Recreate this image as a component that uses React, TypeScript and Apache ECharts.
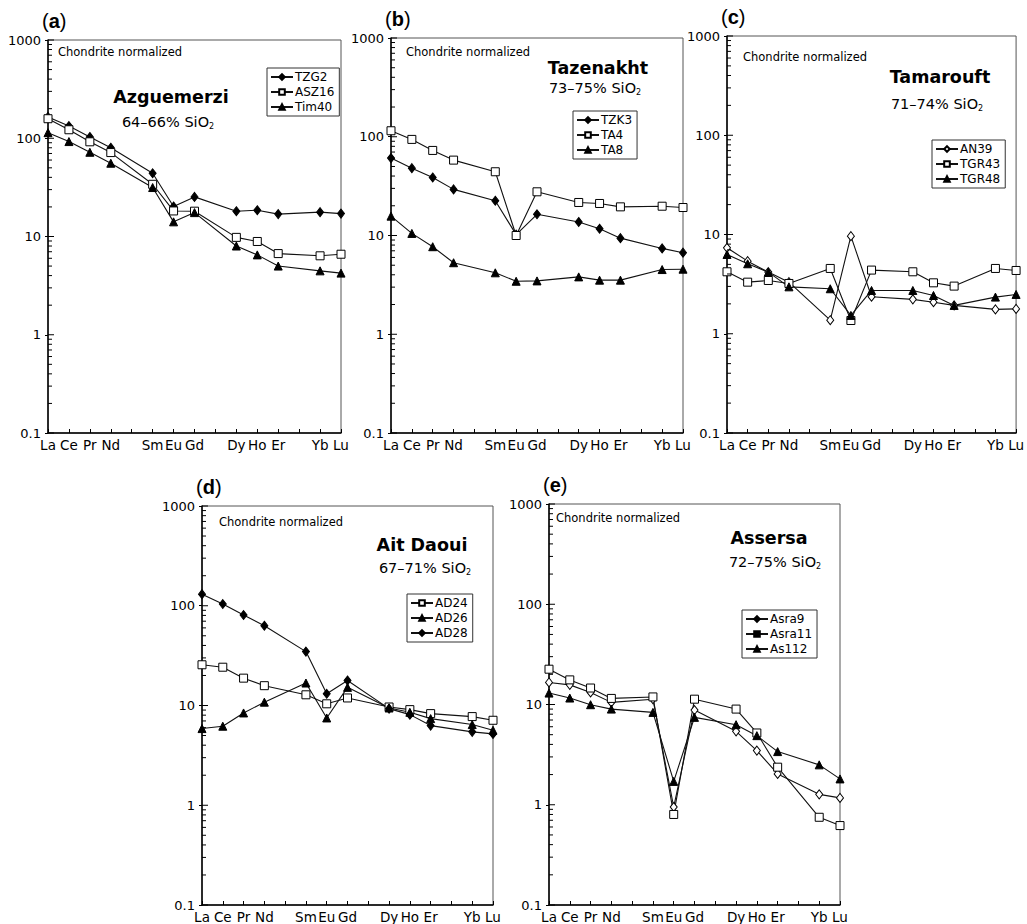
import React, { useEffect, useRef } from "react";
import * as echarts from "echarts";

// ---- axis definitions ----
const ELEMENTS = ["La", "Ce", "Pr", "Nd", "Sm", "Eu", "Gd", "Dy", "Ho", "Er", "Yb", "Lu"];
const TICK_LABELS = ["La", "Ce", "Pr", "Nd", "", "Sm", "Eu", "Gd", "", "Dy", "Ho", "Er", "", "Yb", "Lu"];
const Y_MAJOR = [0.1, 1, 10, 100, 1000];
const Y_MINOR_MANTISSA = [2, 3, 4, 5, 6, 7, 8, 9];
const Y_MINOR_DECADES = [0.1, 1, 10, 100];

// ---- panel (a) Azguemerzi ----
const TZG2 = [165, 133, 103, 80, 44, 20.2, 25.3, 18.1, 18.5, 16.9, 17.7, 17.1];
const ASZ16 = [158, 122, 92, 71.5, 34, 18.2, 18.1, 9.8, 8.9, 6.7, 6.36, 6.6];
const Tim40 = [114, 92.5, 72, 55.7, 31.5, 14.1, 17.5, 8.0, 6.5, 5.0, 4.47, 4.24];
// ---- panel (b) Tazenakht ----
const TZK3 = [60.8, 48.1, 38.7, 29.3, 22.5, 10.2, 16.4, 13.7, 11.7, 9.4, 7.4, 6.7];
const TA4 = [115, 94, 72.7, 58, 44.2, 10, 27.7, 21.6, 21.1, 19.5, 19.8, 19.2];
const TA8 = [15.7, 10.5, 7.7, 5.3, 4.19, 3.44, 3.47, 3.81, 3.53, 3.53, 4.52, 4.56];
// ---- panel (c) Tamarouft ----
const AN39 = [7.34, 5.39, 4.18, 3.31, 1.37, 9.62, 2.36, 2.22, 2.08, 1.93, 1.76, 1.78];
const TGR43 = [4.21, 3.31, 3.44, 3.21, 4.55, 1.36, 4.38, 4.21, 3.26, 3.02, 4.55, 4.34];
const TGR48 = [6.29, 5.07, 4.18, 2.97, 2.84, 1.53, 2.73, 2.73, 2.43, 1.93, 2.34, 2.49];
// ---- panel (d) Ait Daoui ----
const AD24 = [25.6, 24.2, 18.8, 15.8, 12.8, 10.4, 11.9, 9.66, 9.09, 8.29, 7.74, 7.11];
const AD26 = [5.87, 6.2, 8.42, 10.8, 16.8, 7.5, 15.2, 9.44, 8.55, 7.39, 6.44, 5.65];
const AD28 = [130.7, 104, 80.7, 63.1, 34.7, 13.1, 17.8, 9.3, 8.1, 6.29, 5.44, 5.19];
// ---- panel (e) Assersa ----
const Asra9 = [16.6, 15.7, 13.2, 10.5, 11.3, 0.95, 8.8, 5.4, 3.47, 2.03, 1.27, 1.17];
const Asra11 = [22.5, 17.6, 14.6, 11.5, 11.9, 0.8, 11.3, 9.0, 5.2, 2.37, 0.75, 0.62];
const As112 = [13.0, 11.6, 9.95, 9.0, 8.34, 1.71, 7.44, 6.29, 4.89, 3.39, 2.5, 1.81];

type Mk = "fd" | "os" | "ft" | "od";

const PANELS = [
  {
    letter: "a", name: "Azguemerzi", silica: "64–66% SiO",
    grid: { left: 48, top: 40, width: 293, height: 393 },
    chond: [58, 52], nameC: [171, 97], silC: [168, 122],
    legend: [267, 68],
    series: [
      { name: "TZG2", values: TZG2, mk: "fd" as Mk },
      { name: "ASZ16", values: ASZ16, mk: "os" as Mk },
      { name: "Tim40", values: Tim40, mk: "ft" as Mk },
    ],
  },
  {
    letter: "b", name: "Tazenakht", silica: "73–75% SiO",
    grid: { left: 391, top: 38, width: 292, height: 395 },
    chond: [406, 52], nameC: [598, 68], silC: [595, 88],
    legend: [573, 111],
    series: [
      { name: "TZK3", values: TZK3, mk: "fd" as Mk },
      { name: "TA4", values: TA4, mk: "os" as Mk },
      { name: "TA8", values: TA8, mk: "ft" as Mk },
    ],
  },
  {
    letter: "c", name: "Tamarouft", silica: "71–74% SiO",
    grid: { left: 727, top: 36, width: 291, height: 397 },
    chond: [743, 57], nameC: [940, 77], silC: [937, 104],
    legend: [932, 140],
    series: [
      { name: "AN39", values: AN39, mk: "od" as Mk },
      { name: "TGR43", values: TGR43, mk: "os" as Mk },
      { name: "TGR48", values: TGR48, mk: "ft" as Mk },
    ],
  },
  {
    letter: "d", name: "Ait Daoui", silica: "67–71% SiO",
    grid: { left: 202, top: 506, width: 291, height: 401 },
    chond: [219, 522], nameC: [422, 545], silC: [425, 568],
    legend: [407, 594],
    series: [
      { name: "AD24", values: AD24, mk: "os" as Mk },
      { name: "AD26", values: AD26, mk: "ft" as Mk },
      { name: "AD28", values: AD28, mk: "fd" as Mk },
    ],
  },
  {
    letter: "e", name: "Assersa", silica: "72–75% SiO",
    grid: { left: 549, top: 504, width: 291, height: 403 },
    chond: [556, 518], nameC: [769, 538], silC: [775, 562],
    legend: [742, 610],
    series: [
      { name: "Asra9", values: Asra9, mk: "od" as Mk, legendFill: true },
      { name: "Asra11", values: Asra11, mk: "os" as Mk, legendFill: true },
      { name: "As112", values: As112, mk: "ft" as Mk },
    ],
  },
];

function markerStyle(mk: Mk) {
  switch (mk) {
    case "fd":
      return { symbol: "diamond", symbolSize: [7, 9], itemStyle: { color: "#000", borderColor: "#000", borderWidth: 1 } };
    case "od":
      return { symbol: "diamond", symbolSize: [7, 9], itemStyle: { color: "#fff", borderColor: "#000", borderWidth: 1 } };
    case "os":
      return { symbol: "rect", symbolSize: 8, itemStyle: { color: "#fff", borderColor: "#000", borderWidth: 1 } };
    default:
      return { symbol: "triangle", symbolSize: 8, itemStyle: { color: "#000", borderColor: "#000", borderWidth: 1 } };
  }
}

const SANS = "DejaVu Sans";

export default function App() {
  const ref = useRef<HTMLDivElement>(null);
  useEffect(() => {
    if (!ref.current) return;
    const chart = echarts.init(ref.current, null, { renderer: "svg" });

    const minorVals: number[] = [];
    Y_MINOR_DECADES.forEach((d) => Y_MINOR_MANTISSA.forEach((m) => minorVals.push(+(m * d).toPrecision(3))));

    const grids: any[] = [];
    const xAxes: any[] = [];
    const yAxes: any[] = [];
    const series: any[] = [];
    const legends: any[] = [];
    const graphics: any[] = [];

    PANELS.forEach((p, i) => {
      grids.push({ ...p.grid, show: true, borderColor: "#555", borderWidth: 1, backgroundColor: "transparent" });
      xAxes.push({
        type: "value", gridIndex: i, min: 0, max: TICK_LABELS.length - 1, interval: 1,
        axisLine: { show: true, onZero: false, lineStyle: { color: "#000", width: 1.5 } },
        axisTick: { show: true, inside: true, length: 4, lineStyle: { color: "#000" } },
        axisLabel: {
          margin: 5, color: "#000", fontFamily: SANS, fontSize: 13.5,
          formatter: (v: number) => TICK_LABELS[Math.round(v)] || "",
        },
        splitLine: { show: false },
      });
      yAxes.push({
        type: "log", logBase: 10, gridIndex: i, min: 0.1, max: 1000,
        axisLine: { show: true, lineStyle: { color: "#000", width: 1.5 } },
        axisTick: { show: true, inside: false, length: 3, lineStyle: { color: "#000" } },
        axisLabel: {
          margin: 7, color: "#000", fontFamily: SANS, fontSize: 13,
          formatter: (v: number) => {
            const r = Y_MAJOR.find((t) => Math.abs(Math.log10(t) - Math.log10(v)) < 1e-6);
            return r === undefined ? "" : String(r);
          },
        },
        splitLine: { show: false },
      });
      // inner tick marks on the log axis
      series.push({
        type: "custom", xAxisIndex: i, yAxisIndex: i, silent: true, clip: false, z: 5,
        data: minorVals.map((v) => [0, v]),
        renderItem: (_params: any, api: any) => {
          const pt = api.coord([0, api.value(1)]);
          return { type: "line", shape: { x1: pt[0], y1: pt[1], x2: pt[0] + 4, y2: pt[1] }, style: { stroke: "#000", lineWidth: 1 } };
        },
      });
      series.push({
        type: "custom", xAxisIndex: i, yAxisIndex: i, silent: true, clip: false, z: 5,
        data: Y_MAJOR.map((v) => [0, v]),
        renderItem: (_params: any, api: any) => {
          const pt = api.coord([0, api.value(1)]);
          return { type: "line", shape: { x1: pt[0], y1: pt[1], x2: pt[0] + 6, y2: pt[1] }, style: { stroke: "#000", lineWidth: 1 } };
        },
      });
      p.series.forEach((s: any) => {
        series.push({
          type: "line", name: s.name, xAxisIndex: i, yAxisIndex: i, z: 3,
          data: s.values.map((v: number, k: number) => [TICK_LABELS.indexOf(ELEMENTS[k]), v]),
          lineStyle: { color: "#111", width: 1.1 },
          showAllSymbol: true,
          ...markerStyle(s.mk),
        });
      });
      legends.push({
        left: p.legend[0], top: p.legend[1], orient: "vertical",
        itemWidth: 22, itemHeight: 7, itemGap: 3,
        padding: [3, 5, 3, 3], borderColor: "#333", borderWidth: 1, backgroundColor: "#fff",
        textStyle: { fontFamily: SANS, fontSize: 12, color: "#000", padding: [0, 0, 0, -3] },
        data: p.series.map((s: any) =>
          s.legendFill ? { name: s.name, itemStyle: { color: "#000" } } : { name: s.name }
        ),
        selectedMode: false,
      });
      graphics.push({
        type: "text", x: p.grid.left - 6, y: p.grid.top - 19,
        style: {
          text: "{p|(}{l|" + p.letter + "}{p|)}", verticalAlign: "middle", align: "left",
          rich: {
            p: { fontFamily: "Liberation Sans", fontSize: 20, fill: "#000" },
            l: { fontFamily: "Liberation Sans", fontSize: 20, fontWeight: "bold", fill: "#000" },
          },
        },
      });
      graphics.push({
        type: "text", x: p.chond[0], y: p.chond[1],
        style: { text: "Chondrite normalized", fontFamily: SANS, fontSize: 11.5, fill: "#000", align: "left", verticalAlign: "middle" },
      });
      graphics.push({
        type: "text", x: p.nameC[0], y: p.nameC[1],
        style: { text: p.name, fontFamily: SANS, fontSize: 17.5, fontWeight: "bold", fill: "#000", align: "center", verticalAlign: "middle" },
      });
      graphics.push({
        type: "text", x: p.silC[0], y: p.silC[1],
        style: {
          text: "{a|" + p.silica + "}{b|2}", align: "center", verticalAlign: "middle",
          rich: {
            a: { fontFamily: SANS, fontSize: 14.5, fill: "#000", lineHeight: 16 },
            b: { fontFamily: SANS, fontSize: 8, fill: "#000", verticalAlign: "bottom", lineHeight: 8 },
          },
        },
      });
    });

    chart.setOption({
      animation: false,
      backgroundColor: "#fff",
      grid: grids,
      xAxis: xAxes,
      yAxis: yAxes,
      legend: legends,
      series,
      graphic: graphics,
    });
    return () => chart.dispose();
  }, []);

  return (
    <div
      ref={ref}
      style={{ position: "absolute", left: 0, top: 0, width: 1027, height: 924 }}
    />
  );
}
